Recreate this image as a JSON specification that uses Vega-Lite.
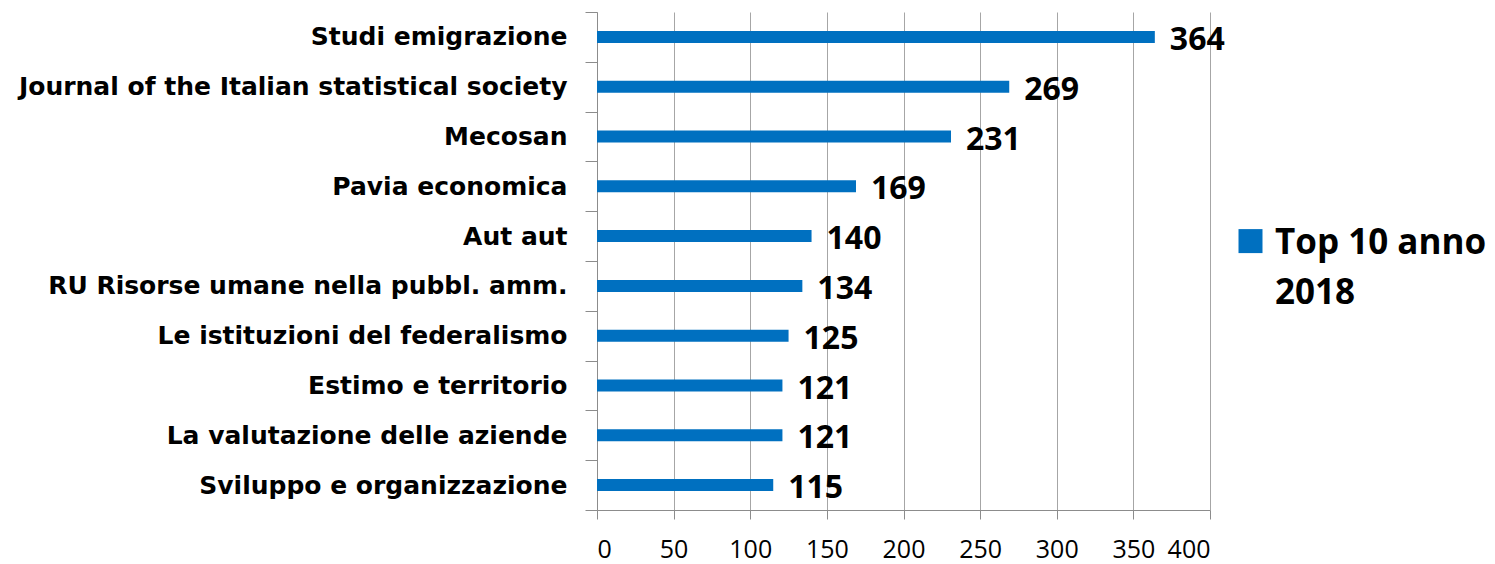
{
  "$schema": "https://vega.github.io/schema/vega-lite/v6.json",
  "autosize": {"type": "none"},
  "width": 613,
  "height": 498,
  "padding": {"left": 597, "top": 12, "right": 285, "bottom": 54},
  "background": "white",
  "config": {
    "view": {"stroke": null},
    "font": "Open Sans",
    "style": {"guide-label": {"lineHeight": 50}}
  },
  "data": {
    "values": [
      {"rivista": "Studi emigrazione", "valore": 364, "serie": "Top 10 anno 2018"},
      {"rivista": "Journal of the Italian statistical society", "valore": 269, "serie": "Top 10 anno 2018"},
      {"rivista": "Mecosan", "valore": 231, "serie": "Top 10 anno 2018"},
      {"rivista": "Pavia economica", "valore": 169, "serie": "Top 10 anno 2018"},
      {"rivista": "Aut aut", "valore": 140, "serie": "Top 10 anno 2018"},
      {"rivista": "RU Risorse umane nella pubbl. amm.", "valore": 134, "serie": "Top 10 anno 2018"},
      {"rivista": "Le istituzioni del federalismo", "valore": 125, "serie": "Top 10 anno 2018"},
      {"rivista": "Estimo e territorio", "valore": 121, "serie": "Top 10 anno 2018"},
      {"rivista": "La valutazione delle aziende", "valore": 121, "serie": "Top 10 anno 2018"},
      {"rivista": "Sviluppo e organizzazione", "valore": 115, "serie": "Top 10 anno 2018"}
    ]
  },
  "encoding": {
    "y": {
      "field": "rivista",
      "type": "nominal",
      "sort": null,
      "title": null,
      "scale": {"paddingInner": 0, "paddingOuter": 0},
      "axis": {
        "tickBand": "extent",
        "domainColor": "#8c8c8c",
        "tickColor": "#8c8c8c",
        "tickSize": 12,
        "labelPadding": 18,
        "labelFont": "DejaVu Sans",
        "labelFontSize": 25,
        "labelFontWeight": "bold",
        "labelColor": "black",
        "labelLimit": 0,
        "grid": false
      }
    },
    "x": {
      "field": "valore",
      "type": "quantitative",
      "title": null,
      "scale": {"domain": [0, 400], "nice": false},
      "axis": {
        "values": [0, 50, 100, 150, 200, 250, 300, 350, 400],
        "grid": true,
        "gridColor": "#a6a6a6",
        "domainColor": "#8c8c8c",
        "tickColor": "#8c8c8c",
        "tickSize": 9,
        "labelPadding": 18,
        "labelFont": "Open Sans",
        "labelFontSize": 25,
        "labelColor": "black"
      }
    }
  },
  "layer": [
    {
      "mark": {"type": "bar", "size": 12},
      "encoding": {
        "color": {
          "field": "serie",
          "type": "nominal",
          "scale": {"range": ["#0070C0"]},
          "legend": {
            "title": null,
            "orient": "none",
            "legendX": 636,
            "legendY": 196,
            "symbolType": "M-1,0.3H1V2.3H-1Z",
            "symbolSize": 576,
            "symbolStrokeWidth": 0,
            "labelFont": "Open Sans",
            "labelFontSize": 35,
            "labelFontWeight": "bold",
            "labelColor": "black",
            "labelLimit": 0,
            "labelOffset": 7,
            "labelExpr": "['Top 10 anno', '2018']",
            "labelBaseline": "top"
          }
        }
      }
    },
    {
      "mark": {"type": "text", "align": "left", "baseline": "middle", "dx": 15, "dy": 3, "font": "Open Sans", "fontSize": 32, "fontWeight": "bold", "color": "black"},
      "encoding": {
        "text": {"field": "valore", "type": "quantitative"}
      }
    }
  ]
}
